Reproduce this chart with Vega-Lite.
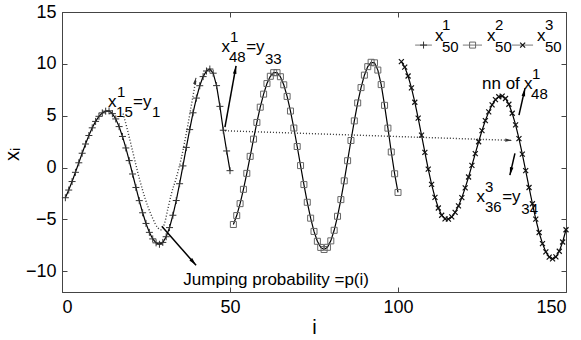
{
  "$schema": "https://vega.github.io/schema/vega-lite/v6.json",
  "width": 504,
  "height": 280,
  "autosize": {"type": "none"},
  "padding": {"left": 62, "top": 12, "right": 15, "bottom": 48},
  "background": "white",
  "config": {
    "font": "Liberation Sans, Arial, sans-serif",
    "view": {"stroke": "#444", "strokeWidth": 1},
    "axis": {
      "grid": false,
      "domainColor": "#444",
      "tickColor": "#444",
      "labelColor": "#000",
      "labelFontSize": 18,
      "titleFontSize": 20,
      "titleFontWeight": "normal",
      "titleColor": "#000",
      "tickSize": -5,
      "labelPadding": 11
    }
  },
  "datasets": {
    "series": [
      {"s":1,"i":1,"y":-2.91},{"s":1,"i":2,"y":-2.17},{"s":1,"i":3,"y":-1.35},{"s":1,"i":4,"y":-0.46},{"s":1,"i":5,"y":0.46},
      {"s":1,"i":6,"y":1.38},{"s":1,"i":7,"y":2.27},{"s":1,"i":8,"y":3.09},{"s":1,"i":9,"y":3.83},{"s":1,"i":10,"y":4.45},
      {"s":1,"i":11,"y":4.94},{"s":1,"i":12,"y":5.27},{"s":1,"i":13,"y":5.44},{"s":1,"i":14,"y":5.47},{"s":1,"i":15,"y":5.2},
      {"s":1,"i":16,"y":4.69},{"s":1,"i":17,"y":3.95},{"s":1,"i":18,"y":3.0},{"s":1,"i":19,"y":1.89},{"s":1,"i":20,"y":0.67},
      {"s":1,"i":21,"y":-0.62},{"s":1,"i":22,"y":-1.92},{"s":1,"i":23,"y":-3.19},{"s":1,"i":24,"y":-4.36},{"s":1,"i":25,"y":-5.39},
      {"s":1,"i":26,"y":-6.25},{"s":1,"i":27,"y":-6.88},{"s":1,"i":28,"y":-7.26},{"s":1,"i":29,"y":-7.4},{"s":1,"i":30,"y":-7.22},
      {"s":1,"i":31,"y":-6.67},{"s":1,"i":32,"y":-5.79},{"s":1,"i":33,"y":-4.6},{"s":1,"i":34,"y":-3.18},{"s":1,"i":35,"y":-1.56},
      {"s":1,"i":36,"y":0.16},{"s":1,"i":37,"y":1.94},{"s":1,"i":38,"y":3.66},{"s":1,"i":39,"y":5.28},{"s":1,"i":40,"y":6.7},
      {"s":1,"i":41,"y":7.89},{"s":1,"i":42,"y":8.77},{"s":1,"i":43,"y":9.31},{"s":1,"i":44,"y":9.5},{"s":1,"i":45,"y":9.1},
      {"s":1,"i":46,"y":7.9},{"s":1,"i":47,"y":5.9},{"s":1,"i":48,"y":3.6},{"s":1,"i":49,"y":1.6},{"s":1,"i":50,"y":-0.3},
      {"s":2,"i":51,"y":-5.49},{"s":2,"i":52,"y":-4.63},{"s":2,"i":53,"y":-3.48},{"s":2,"i":54,"y":-2.1},{"s":2,"i":55,"y":-0.56},
      {"s":2,"i":56,"y":1.08},{"s":2,"i":57,"y":2.74},{"s":2,"i":58,"y":4.35},{"s":2,"i":59,"y":5.82},{"s":2,"i":60,"y":7.08},
      {"s":2,"i":61,"y":8.1},{"s":2,"i":62,"y":8.8},{"s":2,"i":63,"y":9.15},{"s":2,"i":64,"y":9.15},{"s":2,"i":65,"y":8.76},
      {"s":2,"i":66,"y":7.98},{"s":2,"i":67,"y":6.86},{"s":2,"i":68,"y":5.45},{"s":2,"i":69,"y":3.81},{"s":2,"i":70,"y":2.03},
      {"s":2,"i":71,"y":0.19},{"s":2,"i":72,"y":-1.64},{"s":2,"i":73,"y":-3.35},{"s":2,"i":74,"y":-4.88},{"s":2,"i":75,"y":-6.16},
      {"s":2,"i":76,"y":-7.11},{"s":2,"i":77,"y":-7.7},{"s":2,"i":78,"y":-7.9},{"s":2,"i":79,"y":-7.69},{"s":2,"i":80,"y":-7.07},
      {"s":2,"i":81,"y":-6.05},{"s":2,"i":82,"y":-4.7},{"s":2,"i":83,"y":-3.09},{"s":2,"i":84,"y":-1.28},{"s":2,"i":85,"y":0.66},
      {"s":2,"i":86,"y":2.61},{"s":2,"i":87,"y":4.5},{"s":2,"i":88,"y":6.23},{"s":2,"i":89,"y":7.71},{"s":2,"i":90,"y":8.91},
      {"s":2,"i":91,"y":9.73},{"s":2,"i":92,"y":10.15},{"s":2,"i":93,"y":10.1},{"s":2,"i":94,"y":9.4},{"s":2,"i":95,"y":8.0},
      {"s":2,"i":96,"y":6.0},{"s":2,"i":97,"y":3.8},{"s":2,"i":98,"y":1.5},{"s":2,"i":99,"y":-0.6},{"s":2,"i":100,"y":-2.4},
      {"s":3,"i":101,"y":10.22},{"s":3,"i":102,"y":9.69},{"s":3,"i":103,"y":8.83},{"s":3,"i":104,"y":7.68},{"s":3,"i":105,"y":6.3},
      {"s":3,"i":106,"y":4.76},{"s":3,"i":107,"y":3.12},{"s":3,"i":108,"y":1.46},{"s":3,"i":109,"y":-0.15},{"s":3,"i":110,"y":-1.62},
      {"s":3,"i":111,"y":-2.88},{"s":3,"i":112,"y":-3.9},{"s":3,"i":113,"y":-4.6},{"s":3,"i":114,"y":-4.95},{"s":3,"i":115,"y":-4.97},
      {"s":3,"i":116,"y":-4.75},{"s":3,"i":117,"y":-4.32},{"s":3,"i":118,"y":-3.7},{"s":3,"i":119,"y":-2.9},{"s":3,"i":120,"y":-1.96},
      {"s":3,"i":121,"y":-0.91},{"s":3,"i":122,"y":0.21},{"s":3,"i":123,"y":1.35},{"s":3,"i":124,"y":2.49},{"s":3,"i":125,"y":3.56},
      {"s":3,"i":126,"y":4.53},{"s":3,"i":127,"y":5.37},{"s":3,"i":128,"y":6.05},{"s":3,"i":129,"y":6.55},{"s":3,"i":130,"y":6.83},
      {"s":3,"i":131,"y":6.89},{"s":3,"i":132,"y":6.66},{"s":3,"i":133,"y":6.1},{"s":3,"i":134,"y":5.24},{"s":3,"i":135,"y":4.12},
      {"s":3,"i":136,"y":2.79},{"s":3,"i":137,"y":1.3},{"s":3,"i":138,"y":-0.3},{"s":3,"i":139,"y":-1.92},{"s":3,"i":140,"y":-3.49},
      {"s":3,"i":141,"y":-4.97},{"s":3,"i":142,"y":-6.26},{"s":3,"i":143,"y":-7.33},{"s":3,"i":144,"y":-8.13},{"s":3,"i":145,"y":-8.64},
      {"s":3,"i":146,"y":-8.8},{"s":3,"i":147,"y":-8.62},{"s":3,"i":148,"y":-8.07},{"s":3,"i":149,"y":-7.18},{"s":3,"i":150,"y":-6.0}
    ],
    "dotted": [
      {"g":"curve","i":18.2,"y":5.2},{"g":"curve","i":19.5,"y":3.6},{"g":"curve","i":21,"y":1.6},{"g":"curve","i":22.5,"y":-0.4},
      {"g":"curve","i":24,"y":-2.2},{"g":"curve","i":25.5,"y":-3.7},{"g":"curve","i":27,"y":-4.9},{"g":"curve","i":28.5,"y":-5.8},
      {"g":"curve","i":29.5,"y":-6.0},{"g":"curve","i":30.5,"y":-5.4},{"g":"curve","i":31.5,"y":-4.0},{"g":"curve","i":32.5,"y":-2.6},
      {"g":"curve","i":34,"y":-1.0},{"g":"curve","i":35.5,"y":0.9},{"g":"curve","i":37,"y":3.3},{"g":"curve","i":38.5,"y":6.0},
      {"g":"curve","i":39.9,"y":8.6},
      {"g":"jump","i":48.5,"y":3.55},{"g":"jump","i":134.0,"y":2.62}
    ],
    "arrows": [
      {"a":"a1","i":29.7,"y":-5.66},{"a":"a1","i":39.9,"y":-9.42},
      {"a":"a2","i":48.5,"y":3.9},{"a":"a2","i":51.8,"y":9.8},
      {"a":"a3","i":136.0,"y":5.05},{"a":"a3","i":137.8,"y":7.64},
      {"a":"a4","i":134.8,"y":1.36},{"a":"a4","i":133.3,"y":-0.73}
    ],
    "heads": [
      {"h":"a1","i":39.9,"y":-9.42},{"h":"a2","i":51.8,"y":9.8},{"h":"a3","i":137.8,"y":7.64},
      {"h":"a4","i":133.3,"y":-0.73},{"h":"d1","i":134.0,"y":2.62},{"h":"d2","i":39.9,"y":8.7}
    ],
    "mainText": [
      {"t":"x","i":13.69,"y":5.83},{"t":"=y","i":21.13,"y":5.83},
      {"t":"x","i":47.5,"y":11.14},{"t":"=y","i":54.8,"y":11.14},
      {"t":"nn of","i":125.0,"y":7.6},{"t":"x","i":137.5,"y":7.6},
      {"t":"x","i":123.4,"y":-3.32},{"t":"=y","i":131.0,"y":-3.32},
      {"t":"Jumping probability =p(i)","i":36.1,"y":-11.35},
      {"t":"x","i":111.0,"y":12.23},{"t":"x","i":126.5,"y":12.23},{"t":"x","i":141.4,"y":12.23}
    ],
    "scriptText": [
      {"t":"1","i":16.4,"y":6.8},{"t":"15","i":16.1,"y":4.86},{"t":"1","i":26.8,"y":4.86},
      {"t":"1","i":50.0,"y":12.1},{"t":"48","i":49.7,"y":10.17},{"t":"33","i":60.4,"y":10.0},
      {"t":"1","i":139.9,"y":8.57},{"t":"48","i":139.6,"y":6.63},
      {"t":"3","i":125.9,"y":-2.35},{"t":"36","i":125.9,"y":-4.3},{"t":"34","i":136.7,"y":-4.45},
      {"t":"1","i":113.1,"y":13.26},{"t":"50","i":113.1,"y":11.17},
      {"t":"2","i":128.9,"y":13.26},{"t":"50","i":128.9,"y":11.17},
      {"t":"3","i":143.75,"y":13.26},{"t":"50","i":143.75,"y":11.17}
    ],
    "legendLines": [
      {"g":"1","i":105.1,"y":11.81},{"g":"1","i":110.1,"y":11.81},
      {"g":"2","i":119.3,"y":11.81},{"g":"2","i":125.0,"y":11.81},
      {"g":"3","i":133.9,"y":11.81},{"g":"3","i":140.2,"y":11.81}
    ],
    "legendMarks": [
      {"s":1,"i":107.6,"y":11.81},{"s":2,"i":122.2,"y":11.81},{"s":3,"i":137.1,"y":11.81}
    ]
  },
  "layer": [
    {
      "layer": [
        {
          "data": {"name": "series"},
          "mark": {"type": "line", "color": "#000", "strokeWidth": 1.2},
          "encoding": {
            "x": {"field": "i", "type": "quantitative", "scale": {"domain": [0, 150], "nice": false, "zero": false}, "axis": {"values": [0, 50, 100, 150], "title": "i", "titleY": 25, "titleBaseline": "top"}},
            "y": {"field": "y", "type": "quantitative", "scale": {"domain": [-12, 15], "nice": false, "zero": false}, "axis": {"values": [-10, -5, 0, 5, 10, 15], "title": "xᵢ", "titleX": -40, "titleY": 142}},
            "detail": {"field": "s"}
          }
        },
        {
          "data": {"name": "series"},
          "transform": [{"filter": "datum.s == 1"}],
          "mark": {"type": "point", "shape": "M-1,0L1,0M0,-1L0,1", "filled": false, "stroke": "#333", "strokeWidth": 1, "size": 49, "opacity": 1},
          "encoding": {"x": {"field": "i", "type": "quantitative"}, "y": {"field": "y", "type": "quantitative"}}
        },
        {
          "data": {"name": "series"},
          "transform": [{"filter": "datum.s == 2"}],
          "mark": {"type": "point", "shape": "square", "filled": false, "stroke": "#666", "strokeWidth": 1, "size": 36, "opacity": 1},
          "encoding": {"x": {"field": "i", "type": "quantitative"}, "y": {"field": "y", "type": "quantitative"}}
        },
        {
          "data": {"name": "series"},
          "transform": [{"filter": "datum.s == 3"}],
          "mark": {"type": "point", "shape": "M-1,-1L1,1M-1,1L1,-1", "filled": false, "stroke": "#111", "strokeWidth": 1.2, "size": 25, "opacity": 1},
          "encoding": {"x": {"field": "i", "type": "quantitative"}, "y": {"field": "y", "type": "quantitative"}}
        },
        {
          "data": {"name": "dotted"},
          "mark": {"type": "line", "color": "#333", "strokeWidth": 1.4, "strokeDash": [1, 2], "interpolate": "monotone"},
          "encoding": {"x": {"field": "i", "type": "quantitative"}, "y": {"field": "y", "type": "quantitative"}, "detail": {"field": "g"}}
        },
        {
          "data": {"name": "arrows"},
          "mark": {"type": "line", "color": "#000", "strokeWidth": 1.5},
          "encoding": {"x": {"field": "i", "type": "quantitative"}, "y": {"field": "y", "type": "quantitative"}, "detail": {"field": "a"}}
        },
        {
          "data": {"name": "heads"},
          "transform": [{"filter": "datum.h == 'a1'"}],
          "mark": {"type": "point", "shape": "M0,0L0.45,2L-0.45,2Z", "filled": true, "color": "#000", "size": 64, "opacity": 1, "angle": 139},
          "encoding": {"x": {"field": "i", "type": "quantitative"}, "y": {"field": "y", "type": "quantitative"}}
        },
        {
          "data": {"name": "heads"},
          "transform": [{"filter": "datum.h == 'a2'"}],
          "mark": {"type": "point", "shape": "M0,0L0.45,2L-0.45,2Z", "filled": true, "color": "#000", "size": 64, "opacity": 1, "angle": 10},
          "encoding": {"x": {"field": "i", "type": "quantitative"}, "y": {"field": "y", "type": "quantitative"}}
        },
        {
          "data": {"name": "heads"},
          "transform": [{"filter": "datum.h == 'a3'"}],
          "mark": {"type": "point", "shape": "M0,0L0.45,2L-0.45,2Z", "filled": true, "color": "#000", "size": 64, "opacity": 1, "angle": 12},
          "encoding": {"x": {"field": "i", "type": "quantitative"}, "y": {"field": "y", "type": "quantitative"}}
        },
        {
          "data": {"name": "heads"},
          "transform": [{"filter": "datum.h == 'a4'"}],
          "mark": {"type": "point", "shape": "M0,0L0.45,2L-0.45,2Z", "filled": true, "color": "#000", "size": 64, "opacity": 1, "angle": 193},
          "encoding": {"x": {"field": "i", "type": "quantitative"}, "y": {"field": "y", "type": "quantitative"}}
        },
        {
          "data": {"name": "heads"},
          "transform": [{"filter": "datum.h == 'd1'"}],
          "mark": {"type": "point", "shape": "M0,0L0.45,2L-0.45,2Z", "filled": true, "color": "#333", "size": 49, "opacity": 1, "angle": 92},
          "encoding": {"x": {"field": "i", "type": "quantitative"}, "y": {"field": "y", "type": "quantitative"}}
        },
        {
          "data": {"name": "heads"},
          "transform": [{"filter": "datum.h == 'd2'"}],
          "mark": {"type": "point", "shape": "M0,0L0.45,2L-0.45,2Z", "filled": true, "color": "#333", "size": 49, "opacity": 1, "angle": 12},
          "encoding": {"x": {"field": "i", "type": "quantitative"}, "y": {"field": "y", "type": "quantitative"}}
        },
        {
          "data": {"name": "mainText"},
          "mark": {"type": "text", "align": "left", "baseline": "alphabetic", "fontSize": 17, "color": "#000"},
          "encoding": {"x": {"field": "i", "type": "quantitative"}, "y": {"field": "y", "type": "quantitative"}, "text": {"field": "t"}}
        },
        {
          "data": {"name": "scriptText"},
          "mark": {"type": "text", "align": "left", "baseline": "alphabetic", "fontSize": 15, "color": "#000"},
          "encoding": {"x": {"field": "i", "type": "quantitative"}, "y": {"field": "y", "type": "quantitative"}, "text": {"field": "t"}}
        },
        {
          "data": {"name": "legendLines"},
          "mark": {"type": "line", "color": "#777", "strokeWidth": 1},
          "encoding": {"x": {"field": "i", "type": "quantitative"}, "y": {"field": "y", "type": "quantitative"}, "detail": {"field": "g"}}
        },
        {
          "data": {"name": "legendMarks"},
          "transform": [{"filter": "datum.s == 1"}],
          "mark": {"type": "point", "shape": "M-1,0L1,0M0,-1L0,1", "filled": false, "stroke": "#333", "strokeWidth": 1, "size": 49, "opacity": 1},
          "encoding": {"x": {"field": "i", "type": "quantitative"}, "y": {"field": "y", "type": "quantitative"}}
        },
        {
          "data": {"name": "legendMarks"},
          "transform": [{"filter": "datum.s == 2"}],
          "mark": {"type": "point", "shape": "square", "filled": false, "stroke": "#666", "strokeWidth": 1, "size": 36, "opacity": 1},
          "encoding": {"x": {"field": "i", "type": "quantitative"}, "y": {"field": "y", "type": "quantitative"}}
        },
        {
          "data": {"name": "legendMarks"},
          "transform": [{"filter": "datum.s == 3"}],
          "mark": {"type": "point", "shape": "M-1,-1L1,1M-1,1L1,-1", "filled": false, "stroke": "#111", "strokeWidth": 1.2, "size": 25, "opacity": 1},
          "encoding": {"x": {"field": "i", "type": "quantitative"}, "y": {"field": "y", "type": "quantitative"}}
        }
      ]
    },
    {
      "data": {"name": "legendMarks"},
      "mark": {"type": "point", "opacity": 0},
      "encoding": {
        "x": {"field": "i", "type": "quantitative", "axis": {"orient": "top", "labels": false, "title": null, "domain": false, "values": [0, 50, 100, 150]}},
        "y": {"field": "y", "type": "quantitative", "axis": {"orient": "right", "labels": false, "title": null, "domain": false, "values": [-10, -5, 0, 5, 10, 15]}}
      }
    }
  ],
  "resolve": {"axis": {"x": "independent", "y": "independent"}}
}
